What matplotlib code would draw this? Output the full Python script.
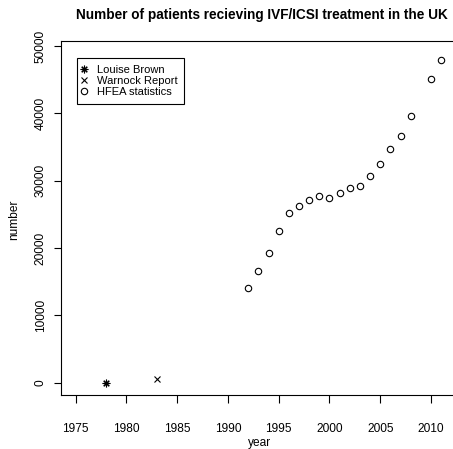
import numpy as np
import matplotlib
matplotlib.use('Agg')
import matplotlib.pyplot as plt

plt.rcParams['font.family'] = ['Liberation Sans', 'DejaVu Sans']

# Milestones
louise_year = [1978]
louise_count = [1]
warnock_year = [1983]
warnock_count = [600]

# HFEA patient counts (no 2009 figure)
hfea_years = [1992, 1993, 1994, 1995, 1996, 1997, 1998, 1999, 2000, 2001,
              2002, 2003, 2004, 2005, 2006, 2007, 2008, 2010, 2011]
hfea_counts = [14020, 16540, 19220, 22570, 25250, 26240, 27130, 27680, 27470, 28220,
               28870, 29210, 30740, 32480, 34700, 36680, 39650, 45050, 47920]

x_ticks = [1975, 1980, 1985, 1990, 1995, 2000, 2005, 2010]
y_ticks = [0, 10000, 20000, 30000, 40000, 50000]

W, H = 453, 449
fig = plt.figure(figsize=(W / 100, H / 100), dpi=100)
ax = fig.add_axes([61 / W, (H - 395) / H, 405 / W, 354 / H])

ax.plot(louise_year, louise_count, linestyle='none', marker=(8, 2, 0),
        markersize=5.5, markeredgewidth=0.8, color='black', label='Louise Brown')
ax.plot(warnock_year, warnock_count, linestyle='none', marker='x',
        markersize=4.3, markeredgewidth=0.8, color='black', label='Warnock Report')
ax.plot(hfea_years, hfea_counts, linestyle='none', marker='o',
        markersize=4.6, markeredgewidth=0.8, markerfacecolor='none',
        markeredgecolor='black', label='HFEA statistics')

ax.set_xlim(1973.55, 2013.45)
ax.set_ylim(-1827, 50740)
ax.set_xticks(x_ticks)
ax.set_yticks(y_ticks)
ax.set_yticklabels([str(v) for v in y_ticks], rotation=90, va='center')
ax.tick_params(direction='out', length=5.4, width=0.8, labelsize=8.6, color='black')
ax.tick_params(axis='x', pad=15)
ax.tick_params(axis='y', pad=5)
ax.spines['right'].set_visible(False)
for sp in ax.spines.values():
    sp.set_linewidth(0.8)

leg = ax.legend(loc='upper left', bbox_to_anchor=(0.0388, 0.951), borderaxespad=0,
                fontsize=8, frameon=True, fancybox=False, edgecolor='black',
                framealpha=1, borderpad=0.6, handlelength=0.1, handletextpad=1.1,
                labelspacing=0.1)
leg.get_frame().set_linewidth(0.8)

fig.text(262 / W, 1 - 15 / H, 'Number of patients recieving IVF/ICSI treatment in the UK',
         ha='center', va='center', fontsize=9.8, fontweight='bold')
fig.text(260 / W, 1 - 443 / H, 'year', ha='center', va='center', fontsize=8.6)
fig.text(14 / W, 1 - 220 / H, 'number', ha='center', va='center', fontsize=8.6, rotation=90)

fig.savefig('out.png', dpi=100, facecolor='white')
